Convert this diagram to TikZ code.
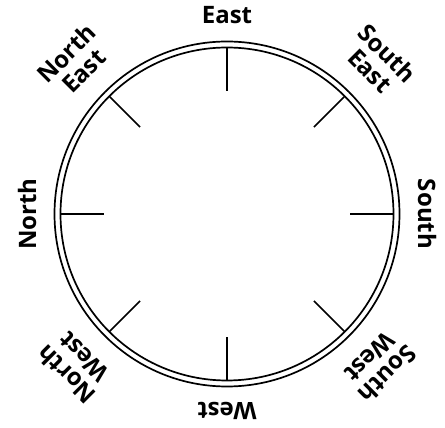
\documentclass[tikz,border=0pt]{standalone}
\usepackage{fontspec}
\setmainfont{Open Sans}
\begin{document}
\begin{tikzpicture}[x=1pt,y=1pt,
  lbl/.style={font=\bfseries\fontsize{24}{24.5}\selectfont, align=center, inner sep=0pt},
  ring/.style={line width=1.7pt},
  tickline/.style={line width=1.5pt}]
\useasboundingbox (0,0) rectangle (445,428);
\coordinate (c) at (227,214);
\draw[ring] (c) circle[radius=172.5pt];
\draw[ring] (c) circle[radius=166.5pt];
\foreach \a in {0,45,...,315}{
  \coordinate (o\a) at ([shift={(\a:166.5pt)}]c);
  \coordinate (i\a) at ([shift={(\a:123pt)}]c);
  \draw[tickline] (o\a) -- (i\a);
}
\node[lbl, rotate=0]   (e)  at ([shift={(90:199pt)}]c)  {East};
\node[lbl, rotate=-45] (se) at ([shift={(45:215pt)}]c)  {South\\East};
\node[lbl, rotate=-90] (s)  at ([shift={(0:200pt)}]c)   {South};
\node[lbl, rotate=-135](sw) at ([shift={(-45:215pt)}]c) {South\\West};
\node[lbl, rotate=180] (w)  at ([shift={(-90:197pt)}]c) {West};
\node[lbl, rotate=135] (nw) at ([shift={(-135:215pt)}]c){North\\West};
\node[lbl, rotate=90]  (n)  at ([shift={(180:200pt)}]c) {North};
\node[lbl, rotate=45]  (ne) at ([shift={(135:215pt)}]c) {North\\East};
\end{tikzpicture}
\end{document}
